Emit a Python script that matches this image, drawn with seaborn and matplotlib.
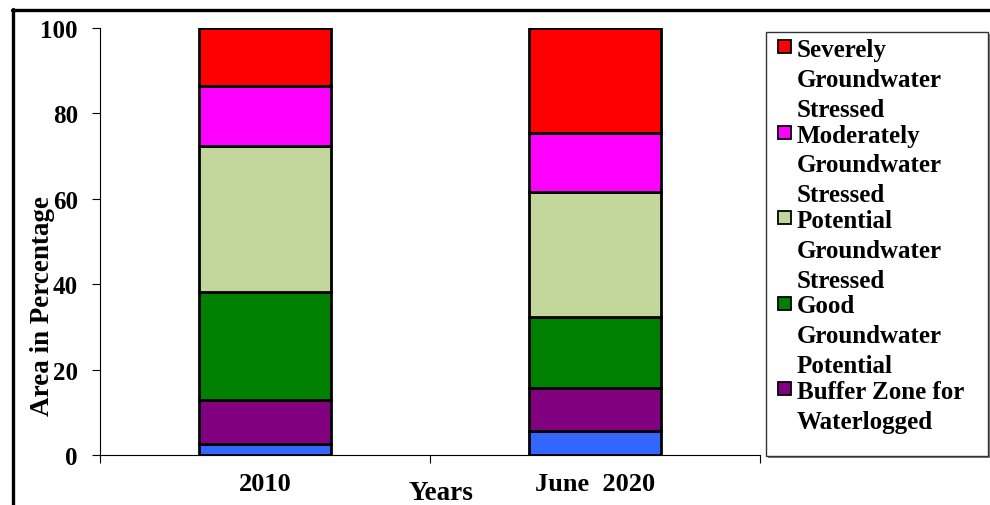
import numpy as np
import matplotlib
matplotlib.use("Agg")
import matplotlib.pyplot as plt
from matplotlib.patches import Rectangle
from matplotlib.lines import Line2D
import seaborn as sns

# =========================
# data
# =========================
years = ['2010', 'June  2020']
waterlogged = [2.6, 5.6]          # blue, not in the legend
buffer_zone = [10.3, 10.1]
good_potential = [25.2, 16.6]
potential_stressed = [34.3, 29.3]
moderately_stressed = [14.0, 13.8]
severely_stressed = [13.6, 24.6]

series = [waterlogged, buffer_zone, good_potential,
          potential_stressed, moderately_stressed, severely_stressed]
colors = ['#3366FF', '#800080', '#008000', '#C3D69B', '#FF00FF', '#FF0000']

legend_labels = ['Severely\nGroundwater\nStressed',
                 'Moderately\nGroundwater\nStressed',
                 'Potential\nGroundwater\nStressed',
                 'Good\nGroundwater\nPotential',
                 'Buffer Zone for\nWaterlogged']
legend_colors = ['#FF0000', '#FF00FF', '#C3D69B', '#008000', '#800080']

# =========================
# style
# =========================
sns.set_theme(style='white')
plt.rcParams['font.family'] = ['Liberation Serif', 'DejaVu Serif']
plt.rcParams['font.weight'] = 'bold'
plt.rcParams['text.color'] = 'black'
plt.rcParams['axes.labelcolor'] = 'black'
plt.rcParams['xtick.color'] = 'black'
plt.rcParams['ytick.color'] = 'black'

W, H = 990, 506
fig = plt.figure(figsize=(W / 100, H / 100), dpi=100)
fx = lambda px: px / W
fy = lambda py: 1 - py / H

ax = fig.add_axes([fx(100), fy(456), fx(760) - fx(100), (456 - 29) / H])

# =========================
# stacked bars
# =========================
bottom = np.zeros(len(years))
for vals, c in zip(series, colors):
    sns.barplot(x=years, y=vals, bottom=bottom, color=c, saturation=1,
                edgecolor='black', linewidth=2.0, width=0.4,
                errorbar=None, ax=ax)
    bottom = bottom + np.array(vals)

ax.set_ylim(0, 100)
ax.set_xlim(-0.5, 1.5)
ax.set_yticks([0, 20, 40, 60, 80, 100])
ax.tick_params(axis='y', labelsize=18, length=6, width=0.8, pad=10,
               direction='out', left=True, colors='black')
ax.set_xticks([-0.5, 0.5, 1.5])
ax.set_xticklabels([])
ax.set_xticks([0, 1], years, minor=True)
ax.tick_params(axis='x', which='major', length=6, width=0.8,
               direction='out', bottom=True, colors='black')
ax.tick_params(axis='x', which='minor', length=0, pad=12, labelsize=19,
               colors='black')
for lab in ax.get_xticklabels(minor=True) + ax.get_yticklabels():
    lab.set_fontweight('bold')

for s in ['top', 'right']:
    ax.spines[s].set_visible(False)
for s in ['left', 'bottom']:
    ax.spines[s].set_color('black')
    ax.spines[s].set_linewidth(0.8)
ax.set_xlabel('')
ax.set_ylabel('')

fig.text(fx(43), fy(306), 'Area in Percentage', rotation=90,
         ha='center', va='center', fontsize=19.5, fontweight='bold')
fig.text(fx(441), fy(500), 'Years', ha='center', va='baseline',
         fontsize=19.5, fontweight='bold')

# =========================
# legend box (drawn by hand to keep squares on the first line)
# =========================
fig.patches.append(Rectangle((fx(768), fy(459)), (988 - 766) / W, (457 - 33) / H,
                             transform=fig.transFigure, facecolor='#808080',
                             edgecolor='none', zorder=1))
fig.patches.append(Rectangle((fx(766), fy(457)), (988 - 766) / W, (457 - 33) / H,
                             transform=fig.transFigure, facecolor='white',
                             edgecolor='#333333', linewidth=1, zorder=2))
for i, (lab, c) in enumerate(zip(legend_labels, legend_colors)):
    top = 40 + i * 85.5
    fig.patches.append(Rectangle((fx(778), fy(top + 14)), 13 / W, 13 / H,
                                 transform=fig.transFigure, facecolor=c,
                                 edgecolor='black', linewidth=1.3, zorder=3))
    fig.text(fx(797), fy(top - 1), lab, ha='left', va='top', fontsize=18,
             fontweight='bold', linespacing=1.38, zorder=3)

# outer frame (top and left edges)
fig.add_artist(Line2D([fx(12), 1], [fy(11), fy(11)], color='black', lw=2.4,
                      transform=fig.transFigure))
fig.add_artist(Line2D([fx(13), fx(13)], [fy(10), 0], color='black', lw=2.4,
                      transform=fig.transFigure))

fig.savefig('out.png', dpi=100)
